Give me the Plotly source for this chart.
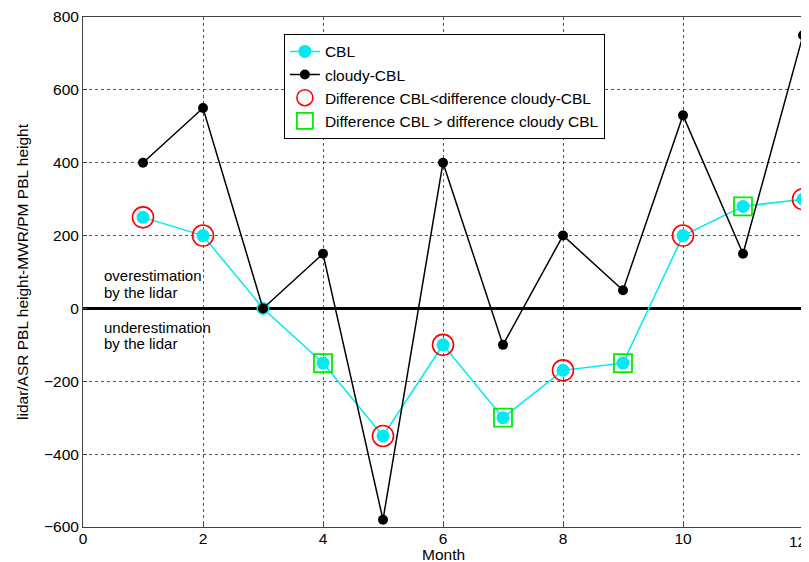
import plotly.graph_objects as go

months = [1, 2, 3, 4, 5, 6, 7, 8, 9, 10, 11, 12]
cbl = [250, 200, 0, -150, -350, -100, -300, -170, -150, 200, 280, 300]
cloudy = [400, 550, 0, 150, -580, 400, -100, 200, 50, 530, 150, 750]
circle_months = [1, 2, 5, 6, 8, 10, 12]
square_months = [4, 7, 9, 11]
circle_vals = [cbl[m - 1] for m in circle_months]
square_vals = [cbl[m - 1] for m in square_months]
x_ticks = [0, 2, 4, 6, 8, 10, 12]
x_ticktext = ["0", "2", "4", "6", "8", "10", ""]  # "12" drawn at the edge below
last_x_label = "12"
y_ticks = [-600, -400, -200, 0, 200, 400, 600, 800]

FONT = "Liberation Sans, Arial, sans-serif"
FS = 15.5

fig = go.Figure()
fig.add_trace(go.Scatter(x=months, y=cbl, mode="lines+markers", name="CBL",
                         line=dict(color="#00EAF0", width=1.5),
                         marker=dict(color="#00EAF0", size=13, symbol="circle"),
                         cliponaxis=False))
fig.add_trace(go.Scatter(x=months, y=cloudy, mode="lines+markers", name="cloudy-CBL",
                         line=dict(color="black", width=1.5),
                         marker=dict(color="black", size=10, symbol="circle"),
                         cliponaxis=False))
fig.add_trace(go.Scatter(x=circle_months, y=circle_vals, mode="markers",
                         name="Difference CBL<difference cloudy-CBL",
                         marker=dict(symbol="circle-open", size=21, color="red",
                                     line=dict(width=1.6, color="red")),
                         cliponaxis=False))
fig.add_trace(go.Scatter(x=square_months, y=square_vals, mode="markers",
                         name="Difference CBL > difference cloudy CBL",
                         marker=dict(symbol="square-open", size=18, color="#00EE00",
                                     line=dict(width=1.8, color="#00EE00")),
                         cliponaxis=False))

notes = [("overestimation", 91), ("by the lidar", 44),
         ("underestimation", -52), ("by the lidar", -96)]
for txt, yv in notes:
    fig.add_annotation(x=0.31, y=yv, xref="x", yref="y", text=txt,
                       showarrow=False, xanchor="left", yanchor="middle", align="left",
                       font=dict(family=FONT, size=15, color="black"))
fig.add_annotation(x=0, y=0.5, xref="paper", yref="paper", xshift=-61,
                   text="lidar/ASR PBL height-MWR/PM PBL height", textangle=-90,
                   showarrow=False, xanchor="center", yanchor="middle",
                   font=dict(family=FONT, size=FS, color="black"))
fig.add_annotation(x=0.5, y=0, xref="paper", yref="paper", yshift=-27,
                   text="Month", showarrow=False, xanchor="center", yanchor="middle",
                   font=dict(family=FONT, size=FS, color="black"))
fig.add_annotation(x=1, y=0, xref="paper", yref="paper", xshift=5, yshift=-14,
                   text=last_x_label, showarrow=False, xanchor="right", yanchor="middle",
                   font=dict(family=FONT, size=FS, color="black"))

# page body has an 8px default margin, so the figure is sized to fit the window
fig.update_layout(
    width=801, height=554,
    margin=dict(l=75, r=6, t=9, b=35, autoexpand=False),
    paper_bgcolor="white", plot_bgcolor="white",
    font=dict(family=FONT, size=FS, color="black"),
    showlegend=True,
    legend=dict(x=0.279, y=0.967, xanchor="left", yanchor="top",
                bgcolor="white", bordercolor="black", borderwidth=1,
                font=dict(family=FONT, size=FS, color="black"),
                tracegroupgap=0, itemsizing="trace"),
    xaxis=dict(range=[0, 12], tickvals=x_ticks, ticktext=x_ticktext, automargin=False,
               ticklabeloverflow="allow", ticklabelstandoff=-3,
               showgrid=True, gridcolor="#555555", griddash="dot", gridwidth=1,
               showline=True, linecolor="#444444", mirror=True, linewidth=1,
               ticks="inside", ticklen=4, tickcolor="#444444",
               zeroline=False),
    yaxis=dict(range=[-600, 800], tickvals=y_ticks, automargin=False,
               ticklabeloverflow="allow",
               showgrid=True, gridcolor="#555555", griddash="dot", gridwidth=1,
               showline=True, linecolor="#444444", mirror=True, linewidth=1,
               ticks="inside", ticklen=4, tickcolor="#444444",
               zeroline=True, zerolinecolor="black", zerolinewidth=3),
)

fig.write_html("out.html")
